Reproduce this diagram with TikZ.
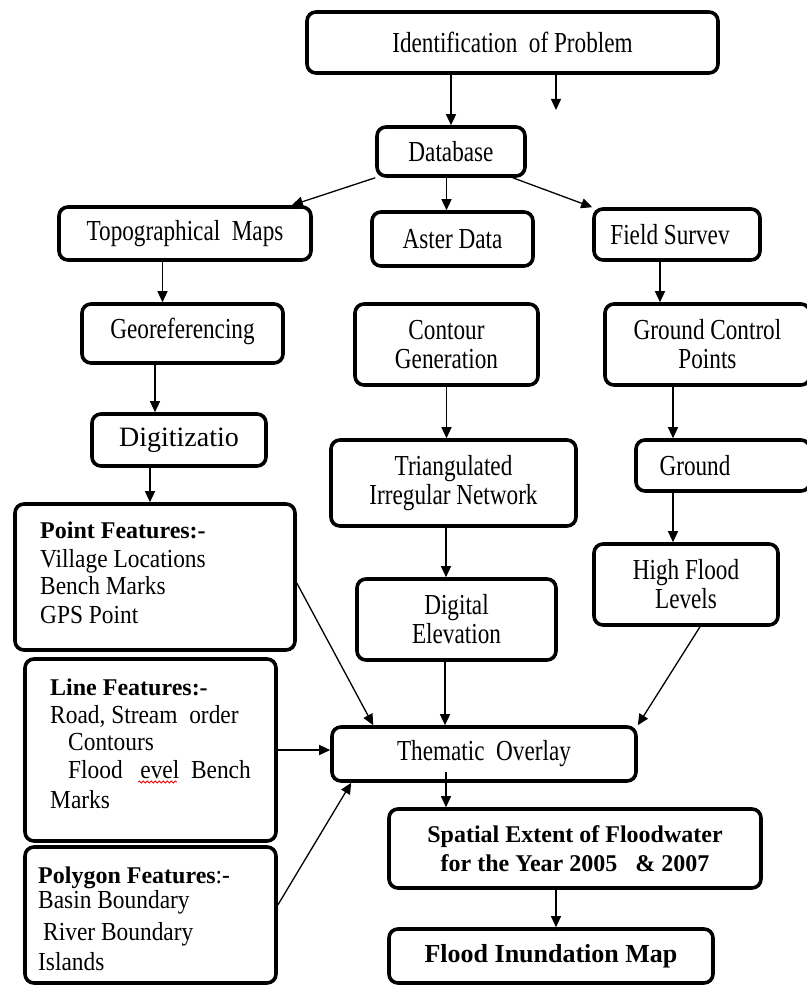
\documentclass[tikz,border=0pt]{standalone}
\usepackage{fontspec}
\setmainfont{Liberation Serif}[FakeStretch=0.8]
\newfontfamily\wide{Liberation Serif}
\newfontfamily\leftf{Liberation Serif}[FakeStretch=0.9]
\usetikzlibrary{arrows.meta,calc,decorations.pathmorphing}
\begin{document}
\begin{tikzpicture}[x=1pt,y=-1pt,
 box/.style={draw, line width=3.6pt, rounded corners=9pt, align=center, inner sep=0pt, font=\fontsize{29}{29}\selectfont},
 arr/.style={line width=1.3pt, -{Triangle[length=11pt,width=10pt]}},
 lbl/.style={anchor=base west, inner sep=0pt, font=\leftf\fontsize{26}{29}\selectfont},
 bl/.style={anchor=base west, inner sep=0pt, font=\wide\bfseries\fontsize{24}{29}\selectfont}]
\useasboundingbox (0,0) rectangle (806,987);

% boxes
\node[box, minimum width=411pt, minimum height=61pt] (prob) at (512.5,42.5) {Identification\ \ of Problem};
\node[box, minimum width=148pt, minimum height=49pt] (db) at (451,151.5) {Database};
\node[box, minimum width=252pt, minimum height=53pt] (topo) at (185,233.5) {Topographical\ \ Maps};
\node[box, minimum width=161pt, minimum height=54pt] (aster) at (452.5,239) {Aster Data};
\node[box, minimum width=166pt, minimum height=51pt] (field) at (677,234.5) {Field Survev\hspace*{14pt}};
\node[box, minimum width=201pt, minimum height=59pt] (geo) at (182.5,333.5) {\raisebox{10pt}{Georeferencing}};
\node[box, minimum width=174pt, minimum height=52pt, font=\wide\fontsize{28}{30}\selectfont] (dig) at (179,440) {Digitizatio};
\node[box, minimum width=183pt, minimum height=81pt] (cont) at (446.5,344.5) {Contour\\Generation};
\node[box, minimum width=205pt, minimum height=81pt] (gcp) at (707.5,344.5) {Ground Control\\Points};
\node[box, minimum width=245pt, minimum height=86pt] (tin) at (453.5,483) {Triangulated\\Irregular Network};
\node[box, minimum width=174pt, minimum height=51pt] (ground) at (723,465.5) {Ground\hspace*{56pt}};
\node[box, minimum width=184pt, minimum height=81pt] (hfl) at (686,584.5) {High Flood\\Levels};
\node[box, minimum width=199pt, minimum height=81pt] (dem) at (456.5,619.5) {Digital\\Elevation};
\node[box, minimum width=280pt, minimum height=146pt] (pt) at (155,577) {};
\node[box, minimum width=251pt, minimum height=182pt] (line) at (150.5,750) {};
\node[box, minimum width=251pt, minimum height=136pt] (poly) at (150.5,915) {};
\node[box, minimum width=304pt, minimum height=54pt] (them) at (484,754) {Thematic\ \ Overlay};
\node[box, minimum width=372pt, minimum height=79pt, font=\wide\bfseries\fontsize{24}{29}\selectfont] (spat) at (575,848.5) {Spatial Extent of Floodwater\\for the Year 2005\ \ \ \& 2007};
\node[box, minimum width=324pt, minimum height=54pt, font=\wide\bfseries\fontsize{26}{29}\selectfont] (fim) at (551,956) {Flood Inundation Map};

% left box texts
\node[bl] (pt1) at (40,538) {Point Features:-};
\node[lbl] (pt2) at (40,567) {Village Locations};
\node[lbl] (pt3) at (40,594) {Bench Marks};
\node[lbl] (pt4) at (40,623) {GPS Point};

\node[bl] (ln1) at (50,695) {Line Features:-};
\node[lbl] (ln2) at (50,723) {Road, Stream\ \ order};
\node[lbl] (ln3) at (68,750) {Contours};
\node[lbl] (ln4) at (68,778) {Flood\ \ \ evel\ \ Bench};
\node[lbl] (ln5) at (50,808) {Marks};
\draw[red, decorate, decoration={snake, amplitude=1pt, segment length=4pt}, line width=0.8pt] (138,782) -- (177,782);

\node[anchor=base west, inner sep=0pt, font=\leftf\fontsize{26}{29}\selectfont] (pg1) at (38,883) {{\wide\bfseries\fontsize{24}{29}\selectfont Polygon Features}:-};
\node[lbl] (pg2) at (38,908) {Basin Boundary};
\node[lbl] (pg3) at (43,940) {River Boundary};
\node[lbl] (pg4) at (38,970) {Islands};

% connectors
\coordinate (free) at (556,110);
\draw[arr] (db.north |- prob.south) -- (db.north);
\draw[arr] (free |- prob.south) -- (free);
\draw[arr] (db.south west) -- ($(topo.north east)+(-21,0)$);
\draw[arr] ([xshift=-6pt]aster.north |- db.south) -- ([xshift=-6pt]aster.north);
\draw[arr] ([xshift=-14pt]db.south east) -- (field.north west);
\draw[arr] ([xshift=-20pt]geo.north |- topo.south) -- ([xshift=-20pt]geo.north);
\draw[arr] ([xshift=-24pt]dig.north |- geo.south) -- ([xshift=-24pt]dig.north);
\draw[arr] ([xshift=-5pt]pt.north |- dig.south) -- ([xshift=-5pt]pt.north);
\draw[arr] ([xshift=-17pt]field.south) -- ([xshift=-17pt]field.south |- gcp.north);
\draw[arr] (cont.south) -- (cont.south |- tin.north);
\draw[arr] ([xshift=-34.5pt]gcp.south) -- ([xshift=-34.5pt]gcp.south |- ground.north);
\draw[arr] ([xshift=-13pt]hfl.north |- ground.south) -- ([xshift=-13pt]hfl.north);
\draw[arr] ([xshift=-7.5pt]tin.south) -- ([xshift=-7.5pt]tin.south |- dem.north);
\draw[arr] ([xshift=-11.5pt]dem.south) -- ([xshift=-11.5pt]dem.south |- them.north);
\draw[arr] ([xshift=14pt]hfl.south) -- (them.north east);
\draw[arr] ([yshift=-6pt]pt.east) -- ([xshift=43pt]them.north west);
\draw[arr] (line.east) -- (line.east -| them.west);
\draw[arr] ([yshift=10pt]poly.east) -- ([xshift=21pt]them.south west);
\coordinate (ts) at ($(them.south)+(-38,-11)$);
\draw[arr] (ts) -- (ts |- spat.north);
\draw[arr] ([xshift=-19pt]spat.south) -- ([xshift=-19pt]spat.south |- fim.north);
\end{tikzpicture}
\end{document}
